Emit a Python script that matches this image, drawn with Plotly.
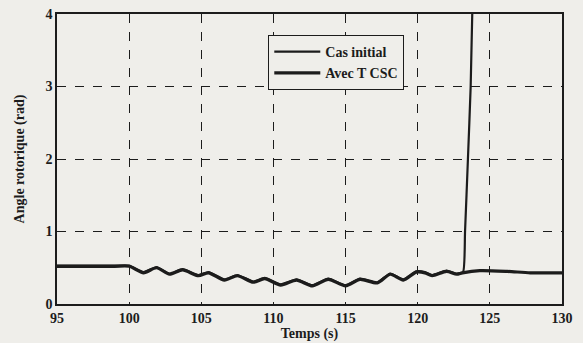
import plotly.graph_objects as go

# Time (s) and rotor angle (rad)
t_tcsc = [95, 99.0, 100, 101.0, 101.9, 102.8, 103.7, 104.8, 105.5, 106.6, 107.5, 108.6, 109.4,
          110.5, 111.6, 112.7, 113.8, 115.0, 116.0, 117.2, 118.1, 119.0, 119.9, 120.5,
          121.0, 122.0, 122.7, 123.1, 124.3, 126.2, 127.8, 130]
v_tcsc = [0.52, 0.52, 0.52, 0.43, 0.50, 0.41, 0.47, 0.39, 0.43, 0.33, 0.39, 0.30, 0.35,
          0.26, 0.33, 0.25, 0.34, 0.25, 0.34, 0.29, 0.41, 0.33, 0.44, 0.43,
          0.39, 0.45, 0.41, 0.43, 0.46, 0.45, 0.43, 0.43]

t_init = [95, 99.0, 100, 101.0, 101.9, 102.8, 103.7, 104.8, 105.5, 106.6, 107.5, 108.6, 109.4,
          110.5, 111.6, 112.7, 113.8, 115.0, 116.0, 117.2, 118.1, 119.0, 119.9, 120.5,
          121.0, 122.0, 122.7, 123.14, 123.28, 123.48, 123.67, 123.78, 123.9]
v_init = [0.53, 0.53, 0.53, 0.44, 0.51, 0.42, 0.48, 0.40, 0.44, 0.34, 0.40, 0.31, 0.36,
          0.27, 0.34, 0.26, 0.35, 0.26, 0.35, 0.30, 0.42, 0.34, 0.45, 0.44,
          0.40, 0.46, 0.42, 0.44, 1.0, 2.0, 3.0, 4.0, 4.6]

x_ticks = [95, 100, 105, 110, 115, 120, 125, 130]
y_ticks = [0, 1, 2, 3, 4]

BG = "#efeeea"
INK = "#1c1c1c"
FONT = "Liberation Serif"

fig = go.Figure()
fig.add_trace(go.Scatter(x=t_init, y=v_init, mode="lines", name="<b>Cas initial</b>",
                         line=dict(color=INK, width=2.2, shape="spline", smoothing=0.5)))
fig.add_trace(go.Scatter(x=t_tcsc, y=v_tcsc, mode="lines", name="<b>Avec T CSC</b>",
                         line=dict(color=INK, width=3.2, shape="spline", smoothing=0.7)))

axis_common = dict(showline=True, linecolor=INK, linewidth=1.5, mirror=True,
                   showgrid=True, gridcolor=INK, gridwidth=1, griddash="dash",
                   zeroline=False, ticks="", automargin=False,
                   tickfont=dict(family=FONT, size=14, color=INK))

fig.update_xaxes(range=[95, 130], tickvals=x_ticks, ticktext=[f"<b>{v}</b>" for v in x_ticks],
                 title=dict(text="<b>Temps (s)</b>", font=dict(family=FONT, size=14, color=INK),
                            standoff=4),
                 **axis_common)
fig.update_yaxes(range=[0, 4], tickvals=y_ticks, ticktext=[f"<b>{v}</b>" for v in y_ticks],
                 title=dict(text="<b>Angle rotorique (rad)</b>", font=dict(family=FONT, size=14, color=INK),
                            standoff=18),
                 **axis_common)

fig.update_layout(
    width=583, height=343,
    margin=dict(l=57, r=21, t=14, b=39, autoexpand=False),
    paper_bgcolor=BG, plot_bgcolor=BG,
    showlegend=True,
    legend=dict(x=0.418, y=0.928, xanchor="left", yanchor="top",
                bgcolor=BG, bordercolor=INK, borderwidth=1.2,
                font=dict(family=FONT, size=14, color=INK),
                tracegroupgap=0, itemwidth=46),
)

fig.write_html("out.html")
